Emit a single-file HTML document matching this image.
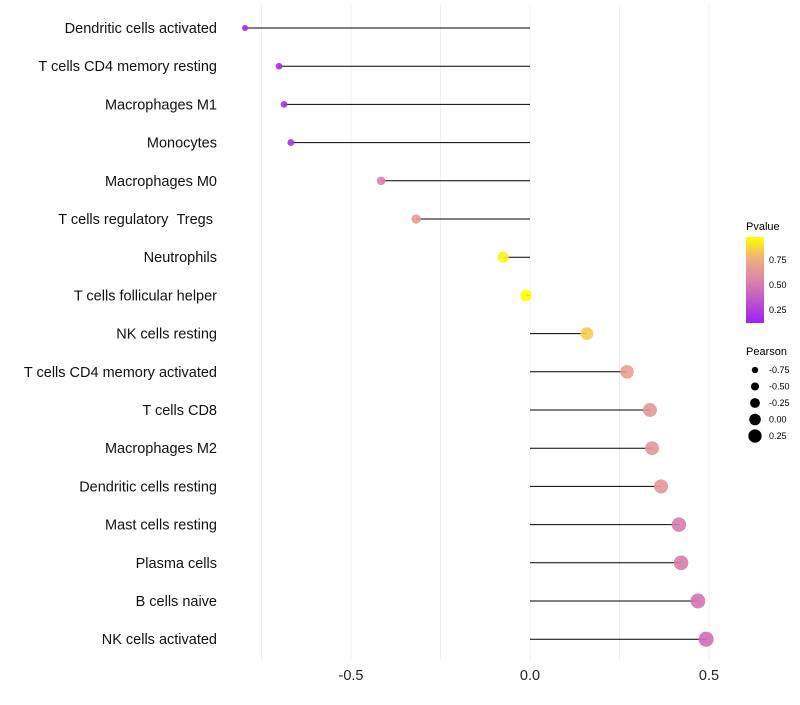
<!DOCTYPE html>
<html><head><meta charset="utf-8"><style>
body{margin:0;background:#fff;font-family:"Liberation Sans",sans-serif}
</style></head><body>
<svg id="chart" width="800" height="700" xmlns="http://www.w3.org/2000/svg">
<g id="grid"></g><g id="marks"></g><g id="labels"></g>
<g id="legend">
<text x="746" y="230" font-size="11">Pvalue</text>
<defs><linearGradient id="pg" x1="0" y1="1" x2="0" y2="0">
<stop offset="0" stop-color="#a020f0"/><stop offset="0.5" stop-color="#dc86a8"/><stop offset="0.75" stop-color="#eeb080"/><stop offset="1" stop-color="#ffff00"/></linearGradient></defs>
<rect x="746" y="237" width="18" height="86" fill="url(#pg)"/>
<text x="769" y="263" font-size="9">0.75</text>
<text x="769" y="288" font-size="9">0.50</text>
<text x="769" y="313" font-size="9">0.25</text>
<text x="746" y="355" font-size="11">Pearson</text>
<g id="sizeLegend"></g>
</g>
</svg>
<script>
const categories=["Dendritic cells activated","T cells CD4 memory resting","Macrophages M1","Monocytes","Macrophages M0","T cells regulatory\u00a0\u00a0Tregs\u00a0","Neutrophils","T cells follicular helper","NK cells resting","T cells CD4 memory activated","T cells CD8","Macrophages M2","Dendritic cells resting","Mast cells resting","Plasma cells","B cells naive","NK cells activated"];
const pearson=[-0.796,-0.701,-0.687,-0.668,-0.416,-0.318,-0.075,-0.011,0.159,0.271,0.335,0.341,0.366,0.416,0.422,0.469,0.492];
const pvalue=[0.12,0.15,0.16,0.18,0.5,0.62,0.9,0.95,0.8,0.64,0.6,0.6,0.6,0.48,0.48,0.45,0.42];
const xTicks=[-0.5,0,0.5];
const xTickLabels=["-0.5","0.0","0.5"];
const sizeBreaks=[-0.75,-0.5,-0.25,0,0.25];
const sizeLabels=["-0.75","-0.50","-0.25","0.00","0.25"];
const NS="http://www.w3.org/2000/svg";
const x=v=>530+v*358;
const y=i=>28+i*38.2;
const r=v=>Math.max(1.5,5.8+3.5*v);
function lerp(a,b,t){return a.map((c,i)=>Math.round(c+(b[i]-c)*t));}
const stops=[[0,[160,32,240]],[0.5,[220,134,168]],[0.75,[238,176,128]],[1,[255,255,0]]];
function col(p){let t=Math.max(0,Math.min(1,(p-0.1)/0.83));
for(let k=0;k<stops.length-1;k++){const [a,A]=stops[k],[b,B]=stops[k+1];if(t<=b){return `rgb(${lerp(A,B,(t-a)/(b-a)).join(',')})`;}}
return 'rgb(255,255,0)';}
function mk(tag,at,parent){const e=document.createElementNS(NS,tag);for(const k in at)e.setAttribute(k,at[k]);parent.appendChild(e);return e;}
const grid=document.getElementById('grid'),marks=document.getElementById('marks'),labels=document.getElementById('labels');
[-0.75,-0.5,-0.25,0,0.25,0.5].forEach(v=>{const l=mk('line',{x1:x(v),x2:x(v),y1:5,y2:660,stroke:'#f0f0f0','stroke-width':1},grid);
});
xTicks.forEach((v,i)=>{const t=mk('text',{x:x(v),y:680,'font-size':14.5,'text-anchor':'middle',fill:'#222'},labels);t.textContent=xTickLabels[i];
});
categories.forEach((c,i)=>{
const t=mk('text',{x:217,y:y(i)+5,'font-size':14.5,'text-anchor':'end',fill:'#111'},labels);t.textContent=c;

const l=mk('line',{x1:x(0),x2:x(pearson[i]),y1:y(i),y2:y(i),stroke:'#000','stroke-width':1},marks);

const d=mk('circle',{cx:x(pearson[i]),cy:y(i),r:r(pearson[i]),fill:col(pvalue[i]),opacity:0.9},marks);

});
const sl=document.getElementById('sizeLegend');
sizeBreaks.forEach((v,i)=>{const cy=370+i*16.5;
const d=mk('circle',{cx:755,cy:cy,r:r(v),fill:'#000'},sl);
const t=mk('text',{x:769,y:cy+3,'font-size':9},sl);t.textContent=sizeLabels[i];});
</script>
</body></html>
